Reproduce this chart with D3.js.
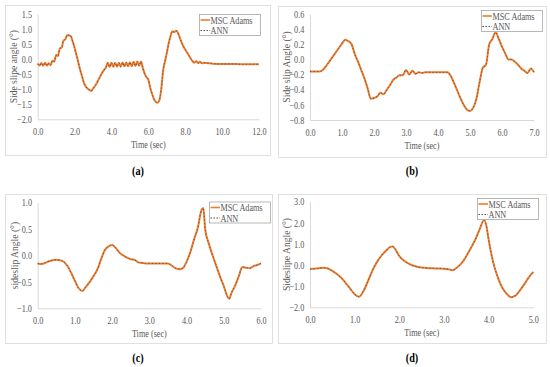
<!DOCTYPE html>
<html>
<head>
<meta charset="utf-8">
<script src="https://cdn.jsdelivr.net/npm/d3@7"></script>
<style>
  body { margin: 0; background: #fff; }
</style>
</head>
<body>
<script>
var width = 550,
    height = 367;

// (a) time (sec) and side slip angle (deg)
var timeA = [0.0,0.1,0.2,0.3,0.4,0.5,0.6,0.7,0.8,0.9,1.0,1.1,1.2,1.3,1.4,1.5,1.6,1.7,1.8,1.9,
  2.0,2.1,2.2,2.3,2.4,2.5,2.6,2.7,2.8,2.9,3.0,3.1,3.2,3.3,3.4,3.5,3.6,3.7,3.8,3.9,
  4.0,4.1,4.2,4.3,4.4,4.5,4.6,4.7,4.8,4.9,5.0,5.1,5.2,5.3,5.4,5.5,5.6,5.7,5.8,5.9,
  6.0,6.1,6.2,6.3,6.4,6.5,6.6,6.7,6.8,6.9,7.0,7.1,7.2,7.3,7.4,7.5,7.6,7.7,7.8,7.9,
  8.0,8.1,8.2,8.3,8.4,8.5,8.6,8.7,8.8,8.9,9.0,9.5,10.0,10.5,11.0,11.5,12.0];
var adamsA = [-0.15,-0.21,-0.13,-0.22,-0.12,-0.22,-0.14,-0.20,-0.05,-0.08,0.14,0.10,0.36,0.38,0.62,0.66,0.80,0.79,0.76,0.58,
  0.38,0.14,-0.10,-0.35,-0.56,-0.78,-0.90,-0.98,-1.02,-1.06,-0.98,-0.90,-0.80,-0.68,-0.56,-0.45,-0.36,-0.28,-0.12,-0.26,
  -0.12,-0.25,-0.12,-0.25,-0.12,-0.25,-0.11,-0.24,-0.11,-0.24,-0.10,-0.24,-0.09,-0.23,-0.08,-0.22,-0.08,-0.30,-0.48,-0.60,
  -0.68,-0.95,-1.15,-1.32,-1.42,-1.45,-1.36,-1.00,-0.38,-0.08,0.20,0.52,0.76,0.93,0.90,0.94,0.88,0.72,0.56,0.42,
  0.32,0.22,0.12,0.02,-0.07,-0.12,-0.07,-0.13,-0.09,-0.14,-0.12,-0.15,-0.16,-0.16,-0.17,-0.17,-0.17];
var annA = adamsA.slice(); // ANN output lies on top of MSC Adams

// (b)
var timeB = [0.0,0.1,0.2,0.3,0.4,0.5,0.6,0.7,0.8,0.9,1.0,1.1,1.2,1.3,1.4,1.5,1.6,1.7,1.8,1.9,
  2.0,2.1,2.2,2.3,2.4,2.5,2.6,2.7,2.8,2.9,3.0,3.1,3.2,3.3,3.4,3.5,3.6,3.7,3.8,3.9,
  4.0,4.1,4.2,4.3,4.4,4.5,4.6,4.7,4.8,4.9,5.0,5.1,5.2,5.3,5.4,5.5,5.6,5.7,5.8,5.9,
  6.0,6.1,6.2,6.3,6.4,6.5,6.6,6.7,6.8,6.9,7.0];
var adamsB = [-0.16,-0.16,-0.16,-0.16,-0.14,-0.09,-0.03,0.03,0.09,0.15,0.21,0.26,0.24,0.20,0.07,-0.03,-0.14,-0.25,-0.38,-0.52,
  -0.51,-0.49,-0.44,-0.46,-0.40,-0.34,-0.27,-0.24,-0.21,-0.21,-0.14,-0.20,-0.15,-0.19,-0.17,-0.18,-0.17,-0.17,-0.17,-0.17,
  -0.17,-0.17,-0.17,-0.17,-0.22,-0.31,-0.41,-0.51,-0.60,-0.66,-0.68,-0.64,-0.52,-0.30,-0.11,-0.07,0.20,0.27,0.36,0.27,
  0.17,0.08,0.00,0.00,-0.03,-0.07,-0.12,-0.15,-0.18,-0.12,-0.17];
var annB = adamsB.slice();

// (c)
var timeC = [0.0,0.1,0.2,0.3,0.4,0.5,0.6,0.7,0.8,0.9,1.0,1.1,1.2,1.3,1.4,1.5,1.6,1.7,1.8,1.9,
  2.0,2.1,2.2,2.3,2.4,2.5,2.6,2.7,2.8,2.9,3.0,3.1,3.2,3.3,3.4,3.5,3.6,3.7,3.8,3.9,
  4.0,4.1,4.2,4.3,4.4,4.45,4.5,4.6,4.7,4.8,4.9,5.0,5.1,5.15,5.2,5.3,5.4,5.5,5.6,5.7,5.8,5.9,6.0];
var adamsC = [-0.15,-0.16,-0.14,-0.11,-0.09,-0.08,-0.09,-0.12,-0.20,-0.33,-0.48,-0.62,-0.67,-0.59,-0.50,-0.39,-0.27,-0.08,0.10,0.17,
  0.20,0.14,0.05,0.00,-0.04,-0.07,-0.08,-0.13,-0.14,-0.15,-0.15,-0.15,-0.15,-0.15,-0.15,-0.15,-0.19,-0.24,-0.26,-0.24,
  -0.12,0.06,0.30,0.52,0.86,0.90,0.50,0.22,0.00,-0.20,-0.40,-0.58,-0.78,-0.82,-0.72,-0.58,-0.40,-0.22,-0.23,-0.24,-0.20,-0.18,-0.15];
var annC = adamsC.slice();

// (d)
var timeD = [0.0,0.1,0.2,0.3,0.4,0.5,0.6,0.7,0.8,0.9,1.0,1.1,1.2,1.3,1.4,1.5,1.6,1.7,1.8,1.85,1.9,
  2.0,2.1,2.2,2.3,2.4,2.5,2.6,2.7,2.8,2.9,3.0,3.1,3.2,3.3,3.4,3.5,3.6,3.7,3.8,3.9,3.95,
  4.0,4.1,4.2,4.3,4.4,4.5,4.6,4.7,4.8,4.9,5.0];
var adamsD = [-0.19,-0.17,-0.15,-0.13,-0.16,-0.28,-0.42,-0.60,-0.85,-1.12,-1.38,-1.50,-1.22,-0.75,-0.25,0.15,0.45,0.68,0.86,0.88,0.78,
  0.42,0.22,0.08,-0.02,-0.08,-0.12,-0.14,-0.15,-0.16,-0.16,-0.17,-0.20,-0.24,-0.10,0.10,0.42,0.80,1.20,1.70,2.13,1.85,
  1.20,0.15,-0.55,-1.05,-1.35,-1.52,-1.45,-1.20,-0.90,-0.58,-0.32];
var annD = adamsD.slice();

var seriesNames = ["MSC Adams", "ANN"];
var panelLetters = ["(a)", "(b)", "(c)", "(d)"];
var yTitles = ["Side slipe angle (°)", "Side slip Angle (°)", "sideslip Angle (°)", "Sideslipe Angle (°)"];
var xTitle = "Time (sec)";

var panels = [
  { t: timeA, a: adamsA, n: annA, xd: [0, 12], xt: [0, 2, 4, 6, 8, 10, 12], yd: [-2, 1.5], yt: [-2, -1.5, -1, -0.5, 0, 0.5, 1, 1.5],
    box: [5, 5, 270, 155], plot: [37.7, 14, 259, 119.3], lg: [199, 14], ytx: 14, lab: [138, 171] },
  { t: timeB, a: adamsB, n: annB, xd: [0, 7], xt: [0, 1, 2, 3, 4, 5, 6, 7], yd: [-0.8, 0.6], yt: [-0.8, -0.6, -0.4, -0.2, 0, 0.2, 0.4, 0.6],
    box: [278, 6, 546, 157], plot: [310, 14, 534, 120], lg: [481, 10], ytx: 287, lab: [412, 171] },
  { t: timeC, a: adamsC, n: annC, xd: [0, 6], xt: [0, 1, 2, 3, 4, 5, 6], yd: [-1, 1], yt: [-1, -0.5, 0, 0.5, 1],
    box: [5, 194, 272, 343], plot: [37.7, 202.7, 261, 308.3], lg: [209, 201.5], ytx: 15, lab: [138, 358] },
  { t: timeD, a: adamsD, n: annD, xd: [0, 5], xt: [0, 1, 2, 3, 4, 5], yd: [-2, 3], yt: [-2, -1, 0, 1, 2, 3],
    box: [278, 194, 546, 343], plot: [310, 201.7, 533.3, 307.3], lg: [477, 198], ytx: 287, lab: [412, 358] }
];

var svg = d3.select("body").append("svg")
    .attr("width", width)
    .attr("height", height);

var grey = "#d9d9d9", textCol = "#595959";
var serif = "'Liberation Serif', 'Times New Roman', serif";
var squeeze = 0.82; // the source figure's text is narrower than normal Times

panels.forEach(function(p, i) {
  var g = svg.append("g");

  g.append("rect")
      .attr("x", p.box[0] + 0.5).attr("y", p.box[1] + 0.5)
      .attr("width", p.box[2] - p.box[0]).attr("height", p.box[3] - p.box[1])
      .attr("fill", "#fff").attr("stroke", grey).attr("stroke-width", 0.8);

  var x = d3.scaleLinear().domain(p.xd).range([p.plot[0], p.plot[2]]);
  var y = d3.scaleLinear().domain(p.yd).range([p.plot[3], p.plot[1]]);

  var xAxis = g.append("g")
      .attr("transform", "translate(0," + p.plot[3] + ")")
      .call(d3.axisBottom(x).tickValues(p.xt).tickFormat(d3.format(".1f")).tickSize(0).tickPadding(9));
  var yAxis = g.append("g")
      .attr("transform", "translate(" + p.plot[0] + ",0)")
      .call(d3.axisLeft(y).tickValues(p.yt).tickFormat(d3.format(".1f")).tickSize(0).tickPadding(7));

  [xAxis, yAxis].forEach(function(ax) {
    ax.attr("font-family", serif).attr("font-size", 10);
    ax.select(".domain").attr("stroke", grey).attr("stroke-width", 1);
    ax.selectAll("text").attr("fill", textCol).attr("transform", "scale(" + squeeze + ",1)");
  });

  g.append("text")
      .attr("transform", "translate(" + (p.plot[0] + p.plot[2]) / 2 + "," + (p.plot[3] + 29) + ") scale(" + squeeze + ",1)")
      .attr("text-anchor", "middle").attr("fill", textCol)
      .attr("font-family", serif).attr("font-size", 10)
      .text(xTitle);

  g.append("text")
      .attr("transform", "translate(" + p.ytx + "," + (p.plot[1] + p.plot[3]) / 2 + ") rotate(-90)")
      .attr("text-anchor", "middle").attr("dy", "0.35em").attr("fill", textCol)
      .attr("font-family", serif).attr("font-size", 9.6)
      .text(yTitles[i]);

  var line = d3.line()
      .x(function(d, j) { return x(p.t[j]); })
      .y(function(d) { return y(d); })
      .curve(d3.curveMonotoneX);

  g.append("path").datum(p.a)
      .attr("d", line).attr("fill", "none")
      .attr("stroke", "#ed7d31").attr("stroke-width", 2);
  g.append("path").datum(p.n)
      .attr("d", line).attr("fill", "none")
      .attr("stroke", "#404040").attr("stroke-width", 0.7).attr("stroke-dasharray", "1.3,2.2");

  // legend
  var lg = g.append("g").attr("transform", "translate(" + p.lg[0] + "," + p.lg[1] + ")");
  lg.append("rect").attr("x", 0.5).attr("y", 0.5).attr("width", 61).attr("height", 21)
      .attr("fill", "#fff").attr("stroke", "#a6a6a6").attr("stroke-width", 0.8);
  seriesNames.forEach(function(name, k) {
    var yy = 6 + k * 10.5;
    lg.append("line").attr("x1", 1.5).attr("x2", 11).attr("y1", yy).attr("y2", yy)
        .attr("stroke", k === 0 ? "#ed7d31" : "#404040")
        .attr("stroke-width", k === 0 ? 1.6 : 0.9)
        .attr("stroke-dasharray", k === 0 ? null : "1.5,1.5");
    lg.append("text")
        .attr("transform", "translate(11.5," + yy + ") scale(" + squeeze + ",1)")
        .attr("dy", "0.35em")
        .attr("fill", textCol).attr("font-family", serif).attr("font-size", 10).text(name);
  });

  g.append("text")
      .attr("transform", "translate(" + p.lab[0] + "," + p.lab[1] + ") scale(0.85,1)")
      .attr("dy", "0.35em")
      .attr("text-anchor", "middle").attr("fill", "#000")
      .attr("font-family", serif).attr("font-size", 12).attr("font-weight", "bold")
      .text(panelLetters[i]);
});
</script>
</body>
</html>
